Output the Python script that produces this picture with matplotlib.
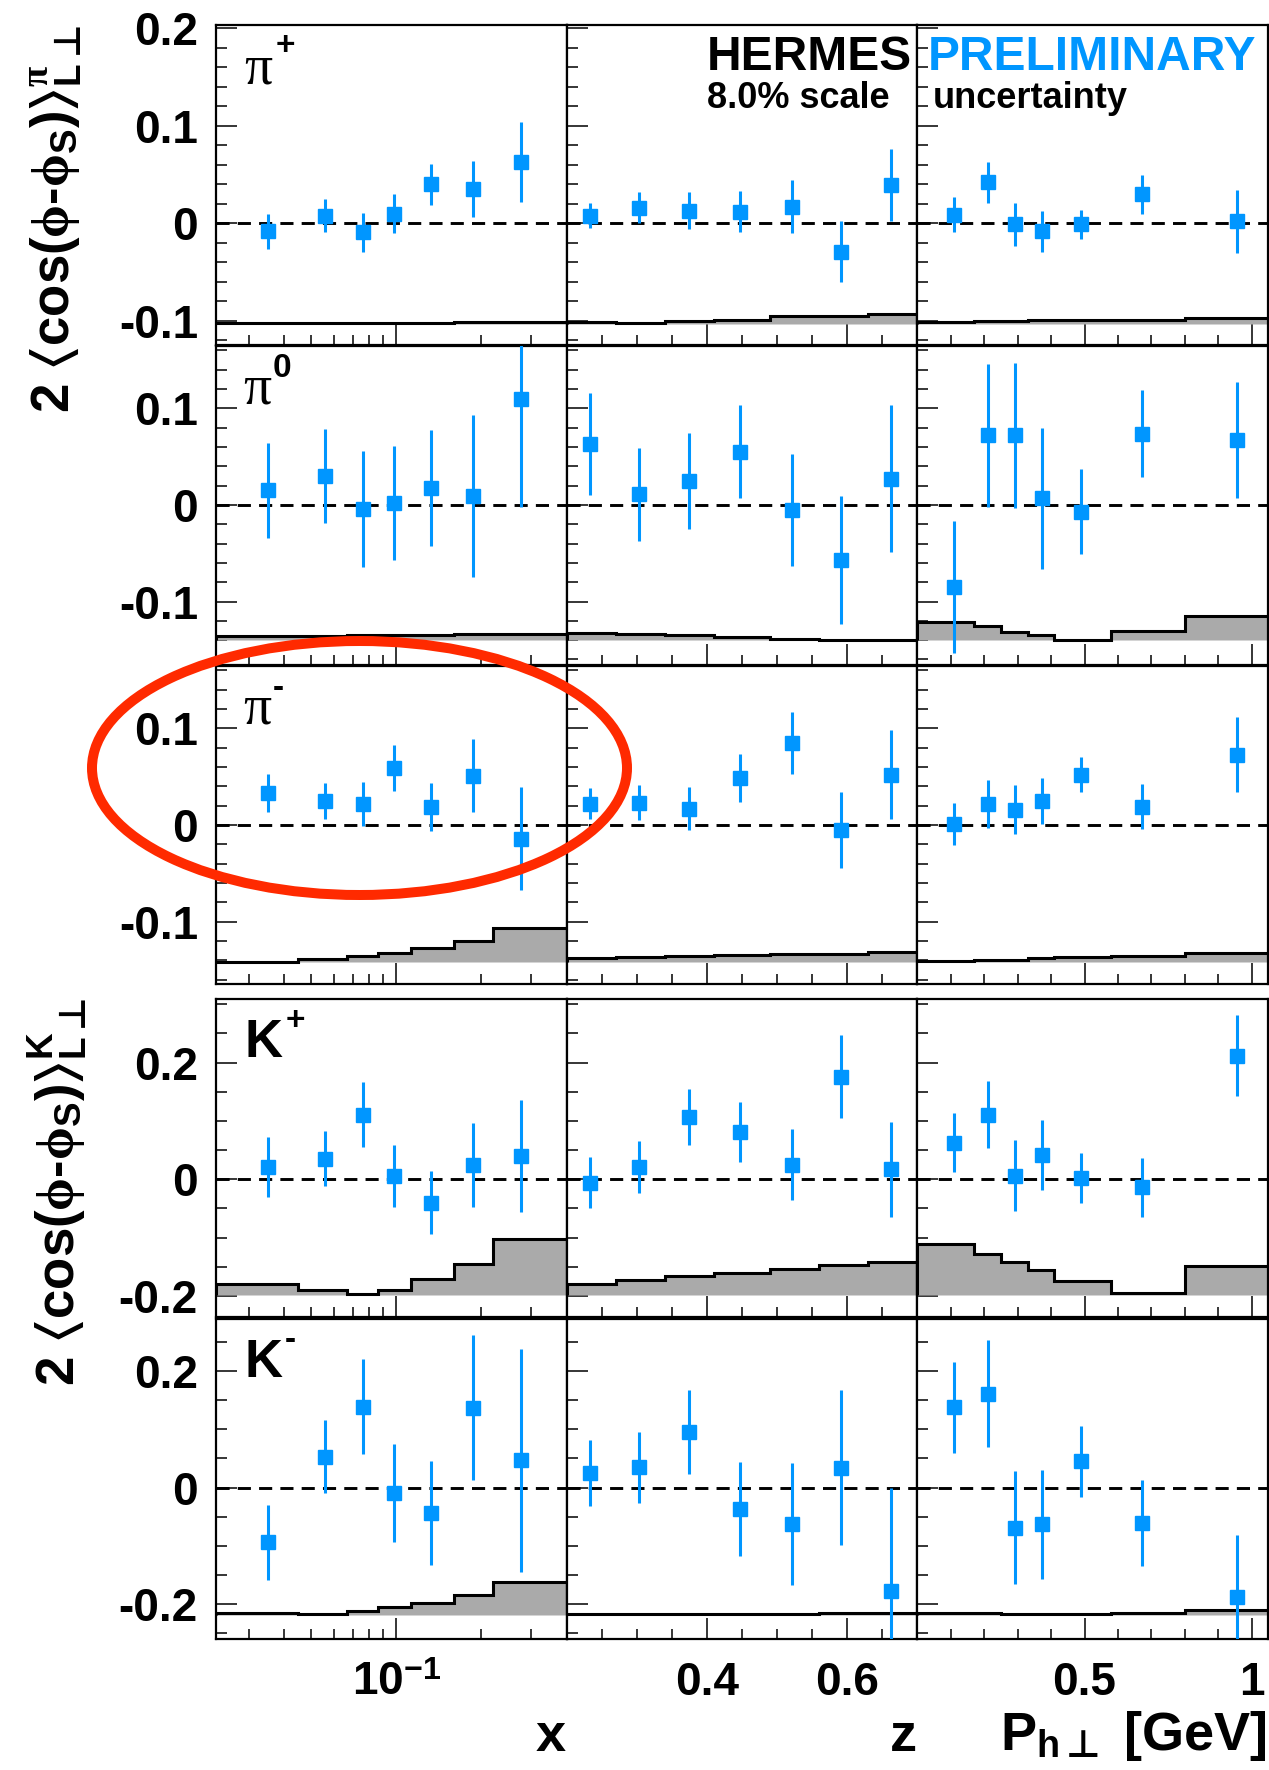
import numpy as np
import matplotlib.pyplot as plt
from matplotlib.patches import Ellipse
from matplotlib.ticker import FixedLocator, MultipleLocator, LogLocator, FuncFormatter, NullFormatter

plt.rcParams['font.family'] = ['Liberation Sans', 'DejaVu Sans']
plt.rcParams['font.weight'] = 'bold'
plt.rcParams['mathtext.fontset'] = 'custom'
plt.rcParams['mathtext.rm'] = 'Liberation Sans:bold'
plt.rcParams['mathtext.it'] = 'Liberation Serif'
plt.rcParams['mathtext.bf'] = 'Liberation Sans:bold'
plt.rcParams['mathtext.sf'] = 'DejaVu Sans:bold'
plt.rcParams['mathtext.fallback'] = 'stixsans'

# ---- kinematic bins ----
x_pts = [0.035, 0.056, 0.076, 0.098, 0.133, 0.186, 0.275]
z_pts = [0.234, 0.303, 0.374, 0.447, 0.522, 0.592, 0.663]
pt_pts = [0.111, 0.212, 0.291, 0.372, 0.489, 0.671, 0.955]

x_edges = [0.023, 0.045, 0.067, 0.086, 0.113, 0.16, 0.22, 0.4]
z_edges = [0.2, 0.27, 0.34, 0.41, 0.49, 0.56, 0.63, 0.7]
pt_edges = [0.0, 0.17, 0.25, 0.33, 0.41, 0.58, 0.8, 1.05]

# ---- asymmetries: [vs x, vs z, vs Ph] ----
pip_val = [[-0.008, 0.008, -0.009, 0.010, 0.040, 0.035, 0.063],
           [0.008, 0.016, 0.013, 0.012, 0.017, -0.029, 0.039],
           [0.009, 0.042, -0.001, -0.008, -0.001, 0.030, 0.002]]
pip_err = [[0.018, 0.017, 0.020, 0.020, 0.021, 0.029, 0.041],
           [0.013, 0.016, 0.019, 0.021, 0.027, 0.031, 0.037],
           [0.018, 0.021, 0.022, 0.021, 0.015, 0.020, 0.032]]
pip_sys = [[0.001, 0.001, 0.001, 0.001, 0.0012, 0.0015, 0.002],
           [0.0014, 0.001, 0.003, 0.004, 0.0076, 0.0083, 0.010],
           [0.002, 0.003, 0.003, 0.0035, 0.004, 0.004, 0.006]]

pi0_val = [[0.015, 0.030, -0.004, 0.002, 0.018, 0.009, 0.110],
           [0.063, 0.011, 0.025, 0.055, -0.005, -0.057, 0.027],
           [-0.085, 0.072, 0.072, 0.007, -0.007, 0.074, 0.067]]
pi0_err = [[0.049, 0.049, 0.060, 0.059, 0.060, 0.084, 0.112],
           [0.053, 0.048, 0.050, 0.048, 0.058, 0.066, 0.076],
           [0.068, 0.074, 0.075, 0.073, 0.044, 0.045, 0.060]]
pi0_sys = [[0.005, 0.005, 0.0055, 0.0055, 0.006, 0.0065, 0.007],
           [0.0076, 0.0062, 0.0052, 0.0034, 0.0017, 0.0007, 0.0003],
           [0.019, 0.0145, 0.0086, 0.0052, 0.0005, 0.0103, 0.0252]]

pim_val = [[0.033, 0.025, 0.022, 0.059, 0.019, 0.051, -0.014],
           [0.022, 0.023, 0.017, 0.049, 0.085, -0.005, 0.052],
           [0.001, 0.022, 0.016, 0.025, 0.052, 0.019, 0.073]]
pim_err = [[0.020, 0.019, 0.023, 0.024, 0.025, 0.038, 0.053],
           [0.016, 0.018, 0.022, 0.025, 0.032, 0.039, 0.046],
           [0.022, 0.025, 0.025, 0.024, 0.018, 0.023, 0.039]]
pim_sys = [[0.0005, 0.0034, 0.0069, 0.0093, 0.0145, 0.0217, 0.0352],
           [0.005, 0.006, 0.007, 0.0076, 0.0083, 0.009, 0.0103],
           [0.0017, 0.002, 0.0028, 0.0045, 0.0059, 0.0069, 0.0093]]

kp_val = [[0.021, 0.035, 0.111, 0.006, -0.040, 0.024, 0.040],
          [-0.006, 0.021, 0.106, 0.081, 0.025, 0.176, 0.017],
          [0.063, 0.111, 0.006, 0.041, 0.002, -0.014, 0.212]]
kp_err = [[0.051, 0.047, 0.056, 0.053, 0.054, 0.072, 0.096],
          [0.044, 0.044, 0.048, 0.052, 0.061, 0.071, 0.082],
          [0.050, 0.057, 0.061, 0.060, 0.043, 0.050, 0.070]]
kp_sys = [[0.0189, 0.0086, 0.0017, 0.0097, 0.0274, 0.0531, 0.096],
          [0.0189, 0.0257, 0.0331, 0.0389, 0.0451, 0.0514, 0.0571],
          [0.0886, 0.0703, 0.0571, 0.044, 0.024, 0.0046, 0.0503]]

km_val = [[-0.094, 0.053, 0.139, -0.009, -0.044, 0.137, 0.047],
          [0.025, 0.035, 0.095, -0.037, -0.062, 0.034, -0.177],
          [0.138, 0.161, -0.069, -0.063, 0.045, -0.061, -0.188]]
km_err = [[0.065, 0.063, 0.081, 0.084, 0.089, 0.124, 0.191],
          [0.056, 0.061, 0.072, 0.081, 0.105, 0.133, 0.177],
          [0.078, 0.092, 0.097, 0.094, 0.061, 0.074, 0.106]]
km_sys = [[0.003, 0.0006, 0.0057, 0.0131, 0.020, 0.0343, 0.056],
          [0.002, 0.002, 0.002, 0.002, 0.002, 0.003, 0.003],
          [0.003, 0.003, 0.002, 0.002, 0.002, 0.003, 0.0086]]

W, H = 1269, 1770
BLUE = '#0096ff'


def fx(px):
    return px / W


def fy(py):
    return 1 - py / H


fig = plt.figure(figsize=(W / 100, H / 100), dpi=100)

col_px = [(216, 566.5), (566.5, 917.2), (917.2, 1267.6)]
# row: (top px, bottom px, ylim, systematic-band baseline, major, minor, data)
rows = [
    (25, 344.5, (-0.1243, 0.2034), -0.103, 0.1, 0.02, (pip_val, pip_err, pip_sys)),
    (346, 665, (-0.1657, 0.1646), -0.1403, 0.1, 0.02, (pi0_val, pi0_err, pi0_sys)),
    (666, 983.5, (-0.164, 0.1646), -0.1421, 0.1, 0.02, (pim_val, pim_err, pim_sys)),
    (999, 1317, (-0.236, 0.309), -0.199, 0.2, 0.05, (kp_val, kp_err, kp_sys)),
    (1319, 1639, (-0.2595, 0.289), -0.218, 0.2, 0.05, (km_val, km_err, km_sys)),
]
xs_list = [x_pts, z_pts, pt_pts]
edges_list = [x_edges, z_edges, pt_edges]
xlims = [(0.023, 0.4), (0.2, 0.7), (0.0, 1.047)]

yfmt = FuncFormatter(lambda v, p: '0' if abs(v) < 1e-9 else '%g' % v)

for ri, (top, bot, ylim, base, maj, mnr, (vals, errs, syss)) in enumerate(rows):
    for ci in range(3):
        l, r = col_px[ci]
        ax = fig.add_axes([fx(l), fy(bot), (r - l) / W, (bot - top) / H])
        if ci == 0:
            ax.set_xscale('log')
        ax.set_xlim(*xlims[ci])
        ax.set_ylim(*ylim)

        ax.stairs(base + np.array(syss[ci]), edges_list[ci], baseline=base, fill=True,
                  facecolor='#aaaaaa', edgecolor='black', linewidth=2.2, zorder=2)
        ax.axhline(0, color='black', lw=2.1, ls=(0, (4.5, 2.8)), zorder=3)
        ax.errorbar(xs_list[ci], vals[ci], yerr=errs[ci], fmt='s', color=BLUE,
                    ms=10, mec=BLUE, elinewidth=2.2, capsize=0, zorder=4)

        for s in ax.spines.values():
            s.set_linewidth(1.6)
        ax.yaxis.set_major_locator(MultipleLocator(maj))
        ax.yaxis.set_minor_locator(MultipleLocator(mnr))
        ax.yaxis.set_major_formatter(yfmt)
        if ci == 0:
            ax.xaxis.set_major_locator(FixedLocator([0.1]))
            ax.xaxis.set_minor_locator(LogLocator(base=10, subs=np.arange(2, 10)))
            ax.xaxis.set_major_formatter(FuncFormatter(lambda v, p: r'$10^{-1}$'))
        elif ci == 1:
            ax.xaxis.set_major_locator(FixedLocator([0.4, 0.6]))
            ax.xaxis.set_minor_locator(MultipleLocator(0.05))
            ax.xaxis.set_major_formatter(FuncFormatter(lambda v, p: '%g' % v))
        else:
            ax.xaxis.set_major_locator(FixedLocator([0.5, 1.0]))
            ax.xaxis.set_minor_locator(MultipleLocator(0.1))
            ax.xaxis.set_major_formatter(FuncFormatter(lambda v, p: '%g' % v))
        ax.xaxis.set_minor_formatter(NullFormatter())

        ax.tick_params(which='both', direction='in', top=False, right=False, width=1.1)
        ax.tick_params(axis='y', which='major', length=15)
        ax.tick_params(axis='y', which='minor', length=8)
        ax.tick_params(axis='x', which='major', length=15)
        ax.tick_params(axis='x', which='minor', length=7)
        ax.tick_params(axis='y', labelleft=(ci == 0), labelsize=33, pad=13)
        ax.tick_params(axis='x', labelbottom=(ri == 4), labelsize=33, pad=16)

# panel labels
fig.text(fx(244), fy(83), 'π', family='Liberation Serif', weight='normal', fontsize=40)
fig.text(fx(276), fy(55), '+', fontsize=24)
fig.text(fx(243), fy(403), 'π', family='Liberation Serif', weight='normal', fontsize=40)
fig.text(fx(273), fy(377), '0', fontsize=24)
fig.text(fx(243), fy(723), 'π', family='Liberation Serif', weight='normal', fontsize=40)
fig.text(fx(273), fy(697), '-', fontsize=24)
fig.text(fx(244), fy(1057), 'K', fontsize=38)
fig.text(fx(286), fy(1030), '+', fontsize=24)
fig.text(fx(244), fy(1377), 'K', fontsize=38)
fig.text(fx(285), fy(1349), '-', fontsize=24)

# y titles
lab_pi = r'2 $\langle$cos($\phi$-$\phi_{\mathrm{S}}$)$\rangle^{\pi}_{\mathrm{L}\mathsf{\bot}}$'
lab_k = r'2 $\langle$cos($\phi$-$\phi_{\mathrm{S}}$)$\rangle^{\mathrm{K}}_{\mathrm{L}\mathsf{\bot}}$'
fig.text(fx(57), fy(25), lab_pi, rotation=90, ha='center', va='top', fontsize=38)
fig.text(fx(57), fy(998), lab_k, rotation=90, ha='center', va='top', fontsize=38)

# x titles
fig.text(fx(566), fy(1751), 'x', ha='right', va='baseline', fontsize=39)
fig.text(fx(917), fy(1751), 'z', ha='right', va='baseline', fontsize=39)
fig.text(fx(1267), fy(1750), r'$\mathrm{P}_{\mathrm{h}\mathsf{\bot}}$ [GeV]', ha='right', va='baseline', fontsize=39)

# header
fig.text(fx(707), fy(70), 'HERMES', va='baseline', fontsize=34.5)
fig.text(fx(928), fy(70), 'PRELIMINARY', va='baseline', fontsize=34.5, color=BLUE)
fig.text(fx(707), fy(108), '8.0% scale', va='baseline', fontsize=26)
fig.text(fx(933), fy(108), 'uncertainty', va='baseline', fontsize=26)

# red highlight ellipse
ell = Ellipse((fx(359.5), fy(768)), 535 / W, 254 / H, transform=fig.transFigure,
              fill=False, edgecolor='#ff2a00', linewidth=7.2, zorder=20)
fig.add_artist(ell)

fig.savefig('out.png', dpi=100)
